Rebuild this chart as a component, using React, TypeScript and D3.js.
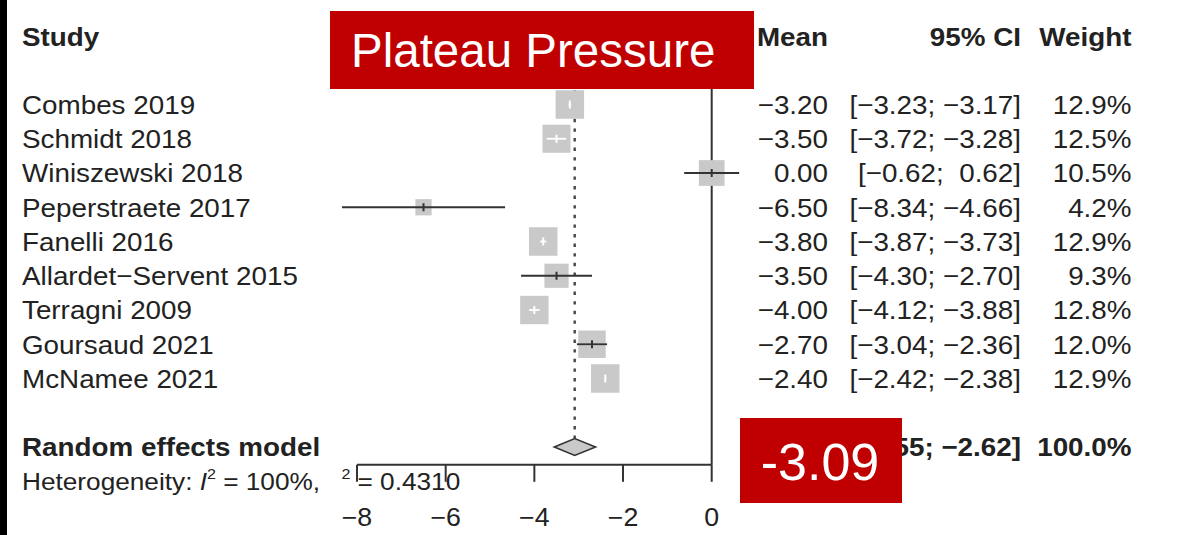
import React from "react";
import * as d3 from "d3";

// Study-level results (mean difference in plateau pressure)
const studies = [
  "Combes 2019",
  "Schmidt 2018",
  "Winiszewski 2018",
  "Peperstraete 2017",
  "Fanelli 2016",
  "Allardet\u2212Servent 2015",
  "Terragni 2009",
  "Goursaud 2021",
  "McNamee 2021",
];
const means = [-3.2, -3.5, 0.0, -6.5, -3.8, -3.5, -4.0, -2.7, -2.4];
const lower = [-3.23, -3.72, -0.62, -8.34, -3.87, -4.3, -4.12, -3.04, -2.42];
const upper = [-3.17, -3.28, 0.62, -4.66, -3.73, -2.7, -3.88, -2.36, -2.38];
const weights = [12.9, 12.5, 10.5, 4.2, 12.9, 9.3, 12.8, 12.0, 12.9];

// Pooled random effects estimate
const pooledMean = -3.09;
const pooledLower = -3.55;
const pooledUpper = -2.62;
const pooledWeight = 100.0;

// Heterogeneity statistics
const i2 = 100;
const tau2 = 0.431;

const xTicks = [-8, -6, -4, -2, 0];
const headers = ["Study", "Mean", "95% CI", "Weight"];
const titleText = "Plateau Pressure";

const W = 1196;
const H = 535;
const SX = 1.07;
const FONT = "'Liberation Sans', Arial, Helvetica, sans-serif";
const INK = "#222";
const LINE = "#333";
const BOX = "#c9c9c9";
const RED = "#c00000";

const x = d3.scaleLinear().domain([-8, 0]).range([357, 711.7]);
const row = d3.scaleLinear().domain([0, 1]).range([104.5, 138.75]);
const side = d3.scaleSqrt().domain([0, 12.9]).range([0, 28.5]);

const num = (v: number) => d3.format(".2f")(v);
const pad = (v: number) => (v >= 0 ? " " + num(v) : num(v));
const ci = (lo: number, hi: number) => `[${pad(lo)}; ${pad(hi)}]`;
const pct = (w: number) => `${w.toFixed(1)}%`;

type TProps = {
  x: number;
  y: number;
  size?: number;
  anchor?: "start" | "middle" | "end";
  bold?: boolean;
  children: React.ReactNode;
};

function T({ x, y, size = 26, anchor = "start", bold = false, children }: TProps) {
  return (
    <text
      transform={`translate(${x},${y}) scale(${SX},1)`}
      fontSize={size}
      fontFamily={FONT}
      fontWeight={bold ? "bold" : "normal"}
      textAnchor={anchor}
      fill={INK}
      style={{ whiteSpace: "pre" }}
    >
      {children}
    </text>
  );
}

const COL_STUDY = 22;
const COL_MEAN = 828;
const COL_CI = 1021;
const COL_W = 1131.5;
const BASE = 9.3;

export default function App() {
  const pooledRow = studies.length + 1;
  const hetRow = studies.length + 2;
  const headRow = -2;
  const axisY = row(studies.length + 1.52);
  const plotTop = 89;
  const yc = row(pooledRow);
  const dh = 8.5;
  const diamond = [
    [x(pooledLower), yc],
    [x(pooledMean), yc - dh],
    [x(pooledUpper), yc],
    [x(pooledMean), yc + dh],
  ];

  return (
    <svg
      width={W}
      height={H}
      style={{ position: "absolute", left: 0, top: 0, background: "#fff" }}
    >
      <rect x={0} y={0} width={W} height={H} fill="#fff" />

      {/* column headers */}
      <T x={COL_STUDY} y={row(headRow) + BASE + 1} bold>{headers[0]}</T>
      <T x={COL_MEAN} y={row(headRow) + BASE + 1} bold anchor="end">{headers[1]}</T>
      <T x={COL_CI} y={row(headRow) + BASE + 1} bold anchor="end">{headers[2]}</T>
      <T x={COL_W} y={row(headRow) + BASE + 1} bold anchor="end">{headers[3]}</T>

      {/* reference line at zero */}
      <line x1={x(0)} x2={x(0)} y1={plotTop} y2={axisY} stroke={LINE} strokeWidth={2} />

      {/* pooled estimate line */}
      <line
        x1={x(pooledMean)}
        x2={x(pooledMean)}
        y1={plotTop + 1}
        y2={yc - dh}
        stroke="#444"
        strokeWidth={2.4}
        strokeDasharray="3.4,6.2"
      />

      {/* study rows */}
      {studies.map((s, i) => {
        const cy = row(i);
        const sz = side(weights[i]);
        const cx = x(means[i]);
        const inside = x(lower[i]) >= cx - sz / 2 && x(upper[i]) <= cx + sz / 2;
        const col = inside ? "#fff" : LINE;
        return (
          <g key={s}>
            <T x={COL_STUDY} y={cy + BASE}>{s}</T>
            <T x={COL_MEAN} y={cy + BASE} anchor="end">{num(means[i])}</T>
            <T x={COL_CI} y={cy + BASE} anchor="end">{ci(lower[i], upper[i])}</T>
            <T x={COL_W} y={cy + BASE} anchor="end">{pct(weights[i])}</T>
            <rect x={cx - sz / 2} y={cy - sz / 2} width={sz} height={sz} fill={BOX} />
            <line x1={x(lower[i])} x2={x(upper[i])} y1={cy} y2={cy} stroke={col} strokeWidth={1.8} />
            <line x1={cx} x2={cx} y1={cy - 4} y2={cy + 4} stroke={col} strokeWidth={2} />
          </g>
        );
      })}

      {/* random effects model */}
      <T x={COL_STUDY} y={yc + 8.5} bold>Random effects model</T>
      <T x={COL_MEAN} y={yc + 8.5} bold anchor="end">{num(pooledMean)}</T>
      <T x={COL_CI} y={yc + 8.5} bold anchor="end">{ci(pooledLower, pooledUpper)}</T>
      <T x={COL_W} y={yc + 8.5} bold anchor="end">{pct(pooledWeight)}</T>
      <polygon
        points={diamond.map((p) => p.join(",")).join(" ")}
        fill={BOX}
        stroke={LINE}
        strokeWidth={1.6}
      />

      {/* heterogeneity */}
      <text
        transform={`translate(${COL_STUDY},${row(hetRow) + 8.8}) scale(${SX},1)`}
        fontSize={24.5}
        fontFamily={FONT}
        fill={INK}
        style={{ whiteSpace: "pre" }}
      >
        {"Heterogeneity: "}
        <tspan fontStyle="italic">I</tspan>
        <tspan fontSize={15} dy={-11}>2</tspan>
        <tspan dy={11}>{` = ${i2}%, `}</tspan>
      </text>
      <T x={341.5} y={row(hetRow) - 2} size={15}>2</T>
      <T x={357.5} y={row(hetRow) + 8.8} size={24.5}>{`= ${tau2.toFixed(4)}`}</T>

      {/* x axis */}
      <line x1={x(-8)} x2={x(0)} y1={axisY} y2={axisY} stroke={LINE} strokeWidth={2} />
      {xTicks.map((t) => (
        <g key={t}>
          <line x1={x(t)} x2={x(t)} y1={axisY} y2={axisY + 17} stroke={LINE} strokeWidth={2} />
          <T x={x(t)} y={526} size={25} anchor="middle">{d3.format("d")(t)}</T>
        </g>
      ))}

      {/* title banner */}
      <rect x={330} y={11} width={424} height={78} fill={RED} />
      <text x={351} y={66.5} fontSize={47.5} fontFamily={FONT} fill="#fff">{titleText}</text>

      {/* pooled value callout */}
      <rect x={740} y={418} width={162} height={85} fill={RED} />
      <text x={820} y={480} fontSize={52} fontFamily={FONT} fill="#fff" textAnchor="middle">
        {pooledMean.toFixed(2)}
      </text>

      {/* left edge bar */}
      <rect x={0} y={0} width={7} height={H} fill="#000" />
    </svg>
  );
}
